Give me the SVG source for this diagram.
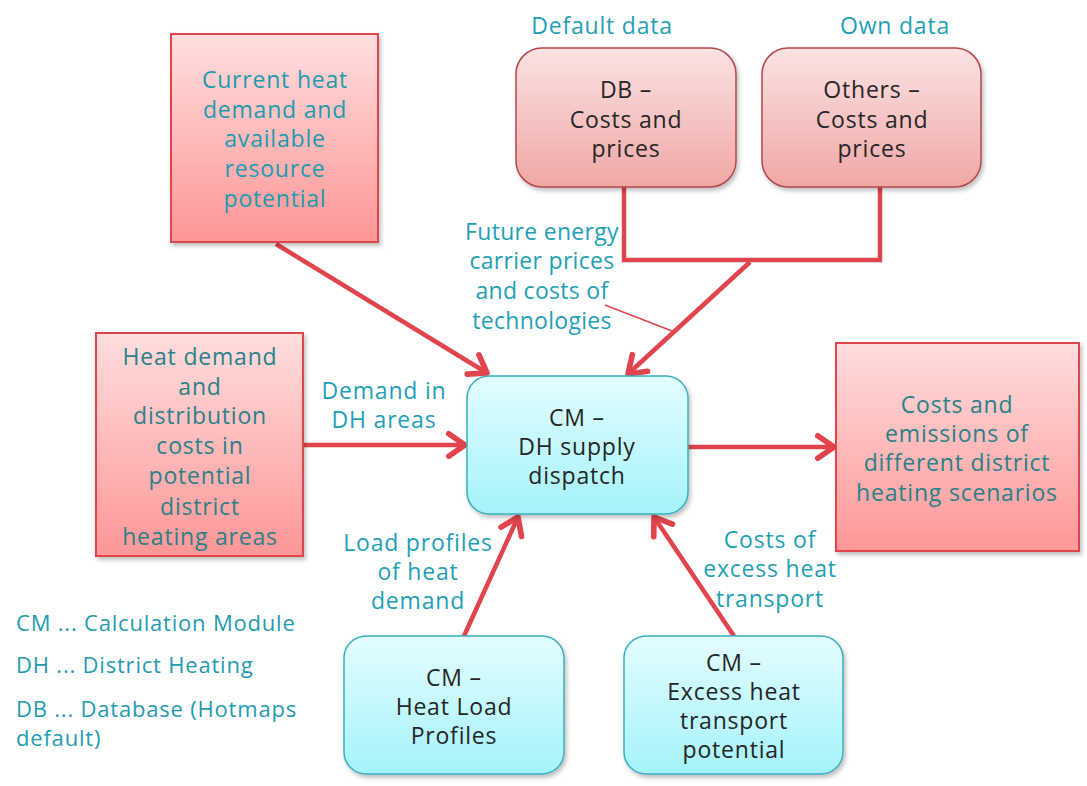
<svg xmlns="http://www.w3.org/2000/svg" width="1087" height="786" viewBox="0 0 1087 786">
<defs>
<linearGradient id="gRed" x1="0" y1="0" x2="0" y2="1"><stop offset="0" stop-color="#ffdede"/><stop offset="1" stop-color="#fd9697"/></linearGradient>
<linearGradient id="gPink" x1="0" y1="0" x2="0" y2="1"><stop offset="0" stop-color="#fbe2e2"/><stop offset="1" stop-color="#f0a7a6"/></linearGradient>
<linearGradient id="gCyan" x1="0" y1="0" x2="0" y2="1"><stop offset="0" stop-color="#e3fdff"/><stop offset="1" stop-color="#a4f3fa"/></linearGradient>
<filter id="sh" x="-10%" y="-10%" width="130%" height="130%"><feDropShadow dx="2" dy="3" stdDeviation="2" flood-color="#000" flood-opacity="0.25"/></filter>
<marker id="ah" markerUnits="userSpaceOnUse" markerWidth="30" markerHeight="30" viewBox="-16 -12 20 24" refX="0" refY="0" orient="auto">
<path d="M-13,-9 L0,0 L-13,9" fill="none" stroke="#e1444c" stroke-width="4.5" stroke-linecap="round" stroke-linejoin="round"/>
</marker>
<style>
text{font-family:"Open Sans","Liberation Sans",sans-serif;font-size:23px;text-anchor:middle;letter-spacing:0.8px}
.red{fill:url(#gRed);stroke:#e0444c;stroke-width:2;filter:url(#sh)}
.pink{fill:url(#gPink);stroke:#b3474a;stroke-width:1.5;filter:url(#sh)}
.cyan{fill:url(#gCyan);stroke:#3aafc0;stroke-width:1.5;filter:url(#sh)}
.tb{fill:#1f9bb0}
.td{fill:#2b8189}
.tk{fill:#262626}
.lb{fill:#1f9fb5}
.fe{letter-spacing:0.3px}
.lg{fill:#1f9bb0;text-anchor:start;font-size:22px}
.c{fill:none;stroke:#e1444c;stroke-width:4.5}
</style>
</defs>

<g id="connectors">
<polyline class="c" points="624,187 624,260 880,260 880,187"/>
<line class="c" x1="750" y1="262" x2="628" y2="374" marker-end="url(#ah)"/>
<line class="c" x1="276" y1="244" x2="487" y2="373" marker-end="url(#ah)"/>
<line class="c" x1="303" y1="445" x2="465" y2="445" marker-end="url(#ah)"/>
<line class="c" x1="688" y1="447" x2="834" y2="447" marker-end="url(#ah)"/>
<line class="c" x1="464" y1="636" x2="518" y2="517" marker-end="url(#ah)"/>
<line class="c" x1="734" y1="636" x2="654" y2="517" marker-end="url(#ah)"/>
<line x1="605" y1="305" x2="672" y2="331" stroke="#e1444c" stroke-width="1.5"/>
</g>

<g id="current-heat">
<rect class="red" x="171" y="34" width="207" height="208"/>
<text class="tb" x="275" y="88">Current heat</text>
<text class="tb" x="275" y="118">demand and</text>
<text class="tb" x="275" y="147">available</text>
<text class="tb" x="275" y="177">resource</text>
<text class="tb" x="275" y="207">potential</text>
</g>

<g id="db-costs">
<rect class="pink" x="516" y="48" width="220" height="139" rx="26"/>
<text class="tk" x="626" y="98">DB –</text>
<text class="tk" x="626" y="128">Costs and</text>
<text class="tk" x="626" y="157">prices</text>
</g>

<g id="others-costs">
<rect class="pink" x="762" y="48" width="219" height="139" rx="26"/>
<text class="tk" x="872" y="98">Others –</text>
<text class="tk" x="872" y="128">Costs and</text>
<text class="tk" x="872" y="157">prices</text>
</g>

<g id="labels">
<text class="lb" x="602" y="34" font-size="22">Default data</text>
<text class="lb" x="895" y="34" font-size="22">Own data</text>
<text class="lb fe" x="542" y="240">Future energy</text>
<text class="lb fe" x="542" y="269">carrier prices</text>
<text class="lb fe" x="542" y="299">and costs of</text>
<text class="lb fe" x="542" y="329">technologies</text>
<text class="lb" x="384" y="399">Demand in</text>
<text class="lb" x="384" y="428">DH areas</text>
<text class="lb" x="418" y="551">Load profiles</text>
<text class="lb" x="418" y="580">of heat</text>
<text class="lb" x="418" y="609">demand</text>
<text class="lb" x="770" y="548">Costs of</text>
<text class="lb" x="770" y="577">excess heat</text>
<text class="lb" x="770" y="607">transport</text>
</g>

<g id="heat-demand-dist">
<rect class="red" x="96" y="333" width="207" height="223"/>
<text class="td" x="200" y="365">Heat demand</text>
<text class="td" x="200" y="395">and</text>
<text class="td" x="200" y="424">distribution</text>
<text class="td" x="200" y="454">costs in</text>
<text class="td" x="200" y="484">potential</text>
<text class="td" x="200" y="515">district</text>
<text class="td" x="200" y="545">heating areas</text>
</g>

<g id="dh-supply">
<rect class="cyan" x="467" y="376" width="221" height="138" rx="22"/>
<text class="tk" x="577" y="426">CM –</text>
<text class="tk" x="577" y="455">DH supply</text>
<text class="tk" x="577" y="484">dispatch</text>
</g>

<g id="output">
<rect class="red" x="836" y="343" width="243" height="208"/>
<text class="td" x="957" y="413">Costs and</text>
<text class="td" x="957" y="442">emissions of</text>
<text class="td" x="957" y="471">different district</text>
<text class="td" x="957" y="501">heating scenarios</text>
</g>

<g id="heat-load-profiles">
<rect class="cyan" x="344" y="636" width="220" height="138" rx="22"/>
<text class="tk" x="454" y="686">CM –</text>
<text class="tk" x="454" y="715">Heat Load</text>
<text class="tk" x="454" y="744">Profiles</text>
</g>

<g id="excess-heat">
<rect class="cyan" x="624" y="636" width="219" height="138" rx="22"/>
<text class="tk" x="734" y="671">CM –</text>
<text class="tk" x="734" y="700">Excess heat</text>
<text class="tk" x="734" y="729">transport</text>
<text class="tk" x="734" y="758">potential</text>
</g>

<g id="legend">
<text class="lg" x="16" y="631">CM ... Calculation Module</text>
<text class="lg" x="16" y="673">DH ... District Heating</text>
<text class="lg" x="16" y="717">DB ... Database (Hotmaps</text>
<text class="lg" x="16" y="746">default)</text>
</g>
</svg>
